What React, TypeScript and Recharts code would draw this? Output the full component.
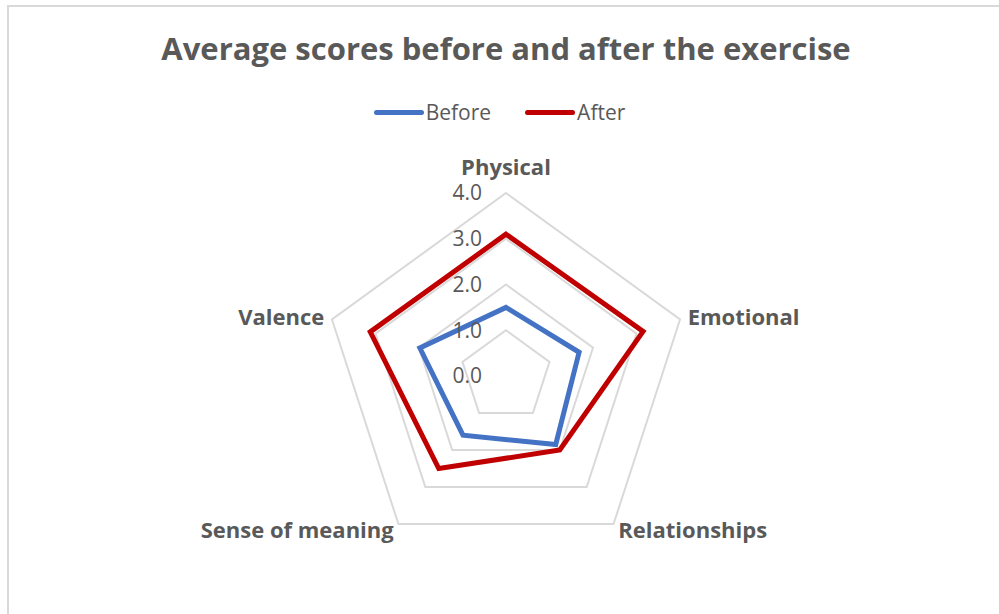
import React from 'react';
import {
  RadarChart,
  Radar,
  PolarGrid,
  PolarAngleAxis,
  PolarRadiusAxis,
  Legend,
} from 'recharts';

const CATEGORIES = ['Physical', 'Emotional', 'Relationships', 'Sense of meaning', 'Valence'];
const BEFORE = [1.5, 1.68, 1.85, 1.6, 1.98];
const AFTER = [3.1, 3.15, 2.0, 2.5, 3.12];
const SERIES = ['Before', 'After'];
const RADIUS_TICKS = [0, 1, 2, 3, 4];

const FONT = '"Open Sans", Lato, sans-serif';
const TEXT = '#595959';
const CX = 506;
const CY = 376;

const data = CATEGORIES.map((name, i) => ({ name, before: BEFORE[i], after: AFTER[i] }));

// category labels, pushed away from the pentagon like Excel does
const AngleTick = (props: any) => {
  const { x, y, textAnchor, payload } = props;
  const top = textAnchor === 'middle' && y < CY;
  return (
    <text
      x={x}
      y={top ? y - 18 : y}
      dy="0.35em"
      textAnchor={textAnchor}
      fill={TEXT}
      fontFamily={FONT}
      fontWeight={700}
      fontSize={22}
    >
      {payload.value}
    </text>
  );
};

const RadiusTick = (props: any) => {
  const { x, y, payload } = props;
  return (
    <text x={x - 24} y={y} dy="0.35em" textAnchor="end" fill={TEXT} fontFamily={FONT} fontSize={21}>
      {Number(payload.value).toFixed(1)}
    </text>
  );
};

const LegendContent = (props: any) => {
  const items = [...(props.payload || [])].sort(
    (a: any, b: any) => SERIES.indexOf(a.value) - SERIES.indexOf(b.value)
  );
  return (
    <div style={{ display: 'flex', justifyContent: 'center', gap: 34, fontFamily: FONT, fontSize: 21, color: TEXT }}>
      {items.map((p: any) => (
        <div key={p.value} style={{ display: 'flex', alignItems: 'center' }}>
          <span style={{ display: 'inline-block', width: 50, height: 5, borderRadius: 3, background: p.color, marginRight: 2 }} />
          <span>{p.value}</span>
        </div>
      ))}
    </div>
  );
};

export default function App() {
  return (
    <div style={{ position: 'fixed', left: 0, top: 0, width: 999, height: 614, overflow: 'hidden', background: '#fff' }}>
      <div
        style={{
          position: 'absolute',
          left: 7,
          top: 5,
          width: 1010,
          height: 630,
          border: '2px solid #d9d9d9',
          boxSizing: 'border-box',
        }}
      />
      <div
        style={{
          position: 'absolute',
          left: 0,
          top: 27,
          width: 1012,
          textAlign: 'center',
          fontFamily: FONT,
          fontWeight: 700,
          fontSize: 31,
          color: TEXT,
        }}
      >
        Average scores before and after the exercise
      </div>
      <div style={{ position: 'absolute', left: 0, top: 0 }}>
        <RadarChart width={999} height={614} data={data} cx={CX} cy={CY} outerRadius={183} startAngle={90} endAngle={-270}>
          <PolarGrid gridType="polygon" radialLines={false} stroke="#d9d9d9" strokeWidth={2} />
          <PolarAngleAxis dataKey="name" tick={<AngleTick />} tickLine={false} axisLine={false} />
          <PolarRadiusAxis
            angle={90}
            domain={[0, 4]}
            ticks={RADIUS_TICKS as any}
            tickCount={5}
            tick={<RadiusTick />}
            axisLine={false}
            tickLine={false}
          />
          <Radar
            name="Before"
            dataKey="before"
            stroke="#4472C4"
            strokeWidth={5}
            fill="none"
            fillOpacity={0}
            dot={false}
            isAnimationActive={false}
          />
          <Radar
            name="After"
            dataKey="after"
            stroke="#C00000"
            strokeWidth={5}
            fill="none"
            fillOpacity={0}
            dot={false}
            isAnimationActive={false}
          />
          <Legend
            verticalAlign="top"
            content={<LegendContent />}
            wrapperStyle={{ top: 98, left: 0, width: 999 }}
          />
        </RadarChart>
      </div>
    </div>
  );
}
